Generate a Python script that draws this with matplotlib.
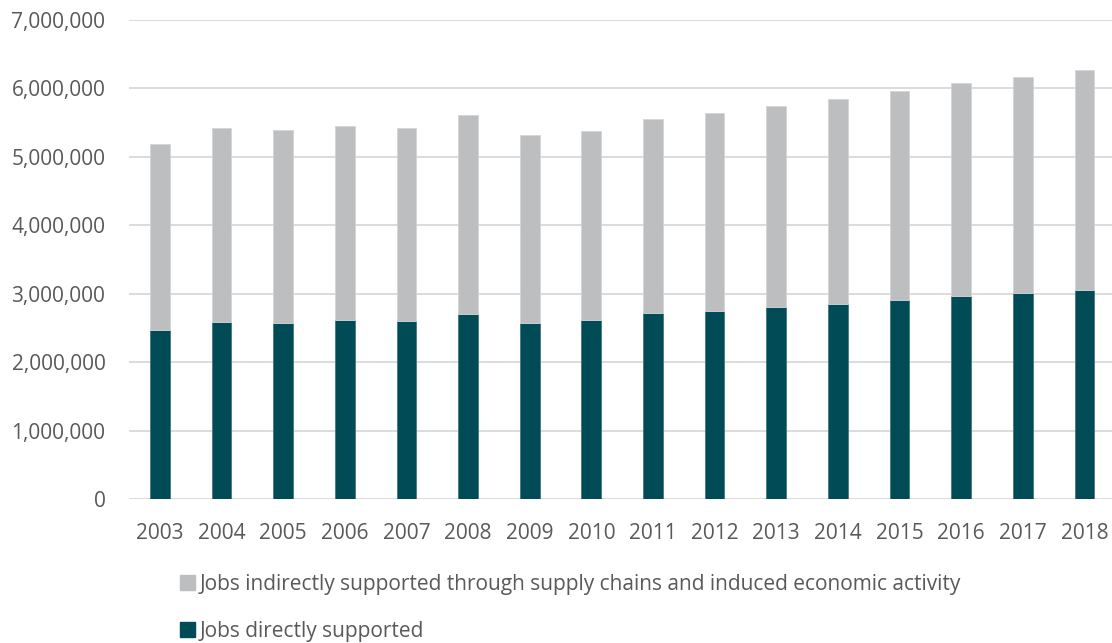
import numpy as np
import matplotlib.pyplot as plt
from matplotlib.ticker import FuncFormatter
from matplotlib.patches import Patch

plt.rcParams['font.family'] = ['Open Sans', 'DejaVu Sans']

years = ['2003', '2004', '2005', '2006', '2007', '2008', '2009', '2010',
         '2011', '2012', '2013', '2014', '2015', '2016', '2017', '2018']

# jobs directly supported
direct = [2470000, 2587000, 2577000, 2620000, 2601000, 2699000, 2572000, 2616000,
          2714000, 2747000, 2806000, 2850000, 2908000, 2962000, 3015000, 3054000]

# total jobs (direct + indirect)
total = [5183000, 5422000, 5393000, 5451000, 5417000, 5612000, 5324000, 5382000,
         5558000, 5636000, 5739000, 5845000, 5962000, 6075000, 6167000, 6269000]

indirect = [t - d for t, d in zip(total, direct)]

col_direct = '#004b55'
col_indirect = '#bdbec0'
txt = '#595959'

fig = plt.figure(figsize=(11.12, 6.43), dpi=100)
ax = fig.add_axes([0.116, 0.224, 0.887, 0.745])

x = np.arange(len(years))
w = 0.32
ax.bar(x, direct, w, color=col_direct, edgecolor='#3f7a80', linewidth=0.6, zorder=3)
ax.bar(x, indirect, w, bottom=direct, color=col_indirect, edgecolor='#d4d5d6',
       linewidth=0.6, zorder=3)

ax.set_xlim(-0.5, len(years) - 0.5)
ax.set_ylim(0, 7000000)
ax.set_yticks(np.arange(0, 7000001, 1000000))
ax.yaxis.set_major_formatter(FuncFormatter(lambda v, p: f'{int(v):,}'))
ax.set_xticks(x)
ax.set_xticklabels(years)

ax.grid(axis='y', color='#d9d9d9', linewidth=1.3, zorder=0)
for s in ax.spines.values():
    s.set_visible(False)
ax.tick_params(axis='both', length=0, labelsize=15, labelcolor=txt)
ax.tick_params(axis='y', pad=17)
ax.tick_params(axis='x', pad=17)

handles = [Patch(color=col_indirect),
           Patch(color=col_direct)]
labels = ['Jobs indirectly supported through supply chains and induced economic activity',
          'Jobs directly supported']
fig.legend(handles, labels, loc='upper left', bbox_to_anchor=(0.162, 0.108),
           frameon=False, fontsize=15, labelcolor=txt, handlelength=0.7,
           handleheight=0.7, handletextpad=0.25, labelspacing=1.25,
           borderaxespad=0, borderpad=0)

fig.savefig('out.png', dpi=100)
